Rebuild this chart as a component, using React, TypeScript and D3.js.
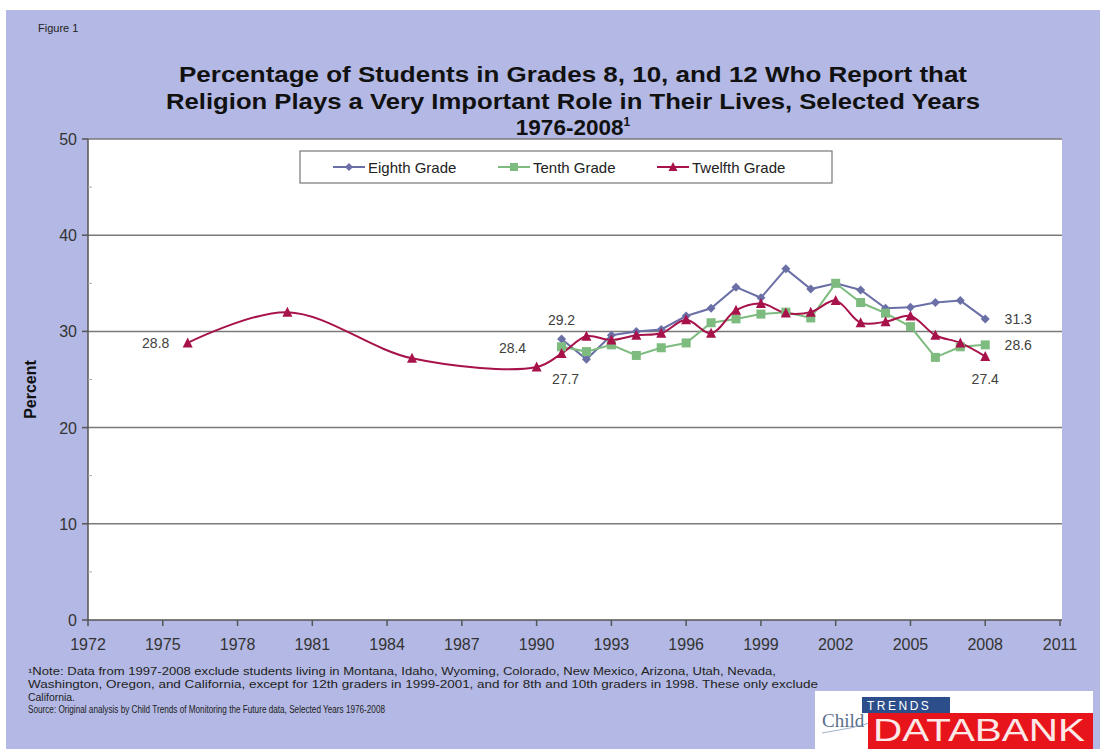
import React from "react";
import * as d3 from "d3";

const titleLines = [
  "Percentage of Students in Grades 8, 10, and 12 Who Report that",
  "Religion Plays a Very Important Role in Their Lives, Selected Years",
];
const yearsLower = [1991, 1992, 1993, 1994, 1995, 1996, 1997, 1998, 1999, 2000, 2001, 2002, 2003, 2004, 2005, 2006, 2007, 2008];
const eighth = [29.2, 27.1, 29.6, 30.0, 30.2, 31.6, 32.4, 34.6, 33.5, 36.5, 34.4, 35.0, 34.3, 32.4, 32.5, 33.0, 33.2, 31.3];
const tenth = [28.4, 27.9, 28.6, 27.5, 28.3, 28.8, 30.9, 31.3, 31.8, 32.0, 31.4, 35.0, 33.0, 31.9, 30.5, 27.3, 28.4, 28.6];
const yearsTwelfth = [1976, 1980, 1985, 1990, 1991, 1992, 1993, 1994, 1995, 1996, 1997, 1998, 1999, 2000, 2001, 2002, 2003, 2004, 2005, 2006, 2007, 2008];
const twelfth = [28.8, 32.0, 27.2, 26.3, 27.7, 29.5, 29.1, 29.6, 29.8, 31.2, 29.8, 32.2, 32.9, 31.9, 32.0, 33.2, 30.9, 31.0, 31.6, 29.6, 28.8, 27.4];
const xTicks = [1972, 1975, 1978, 1981, 1984, 1987, 1990, 1993, 1996, 1999, 2002, 2005, 2008, 2011];
const yTicks = [0, 10, 20, 30, 40, 50];
const yMinor = [5, 15, 25, 35, 45];
const seriesNames = ["Eighth Grade", "Tenth Grade", "Twelfth Grade"];
const footLines = [
  "\u00B9Note: Data from 1997-2008 exclude students living in Montana, Idaho, Wyoming, Colorado, New Mexico, Arizona, Utah, Nevada,",
  "Washington, Oregon, and California, except for 12th graders in 1999-2001, and for 8th and 10th graders in 1998. These only exclude",
  "California.",
  "Source: Original analysis by Child Trends of Monitoring the Future data, Selected Years 1976-2008",
];

const C8 = "#6a6fa6";
const C10 = "#7dbb7f";
const C12 = "#a8124a";
const BG = "#b3b9e4";
const FONT = "'Liberation Sans', Arial, sans-serif";

const x = d3.scaleLinear().domain([1972, 2011]).range([88, 1060]);
const y = d3.scaleLinear().domain([0, 50]).range([620, 139]);

function Diamond({ cx, cy, r = 4.5 }: any) {
  return <path d={`M${cx},${cy - r}L${cx + r},${cy}L${cx},${cy + r}L${cx - r},${cy}Z`} fill={C8} />;
}
function Square({ cx, cy, s = 9 }: any) {
  return <rect x={cx - s / 2} y={cy - s / 2} width={s} height={s} fill={C10} />;
}
function Tri({ cx, cy, s = 10 }: any) {
  const h = s * 0.9;
  return <path d={`M${cx},${cy - h / 2 - 1}L${cx + s / 2},${cy + h / 2}L${cx - s / 2},${cy + h / 2}Z`} fill={C12} />;
}

export default function App() {
  const straight = (yrs: number[], vals: number[]) =>
    d3.line<number>().x((_, i) => x(yrs[i])).y((v) => y(v))(vals) || "";
  const smooth = (yrs: number[], vals: number[]) =>
    d3.line<number>().x((_, i) => x(yrs[i])).y((v) => y(v)).curve(d3.curveCatmullRom.alpha(0.5))(vals) || "";

  const plotL = x(1972), plotR = x(2011) + 2, plotT = y(50), plotB = y(0);

  const labels = [
    { t: "28.8", xv: 1976, yv: 28.8, dx: -32, dy: 0 },
    { t: "29.2", xv: 1991, yv: 29.2, dx: 0, dy: -19 },
    { t: "28.4", xv: 1991, yv: 28.4, dx: -49, dy: 1 },
    { t: "27.7", xv: 1991, yv: 27.7, dx: 4, dy: 25 },
    { t: "31.3", xv: 2008, yv: 31.3, dx: 33, dy: 0 },
    { t: "28.6", xv: 2008, yv: 28.6, dx: 33, dy: 0 },
    { t: "27.4", xv: 2008, yv: 27.4, dx: 0, dy: 23 },
  ];

  return (
    <svg width={1100} height={749} style={{ position: "absolute", left: 0, top: 0 }} fontFamily={FONT}>
      <rect x={0} y={0} width={1100} height={749} fill="#ffffff" />
      <rect x={6} y={10} width={1094} height={739} fill={BG} />
      <text x={38} y={32} fontSize={11} fill="#222">Figure 1</text>
      {titleLines.map((t, i) => (
        <text key={i} x={573} y={82 + i * 27} fontSize={22.5} fontWeight="bold" textAnchor="middle" fill="#111"
          textLength={[788, 814][i]} lengthAdjust="spacingAndGlyphs">{t}</text>
      ))}
      <text x={573} y={135} fontSize={22.5} fontWeight="bold" textAnchor="middle" fill="#111">
        1976-2008<tspan fontSize={12} dy={-9}>1</tspan>
      </text>

      <rect x={plotL} y={plotT} width={plotR - plotL} height={plotB - plotT} fill="#fff" />
      {yTicks.filter((v) => v > 0).map((v) => (
        <line key={v} x1={plotL} x2={plotR} y1={y(v)} y2={y(v)} stroke="#7a7a7a" strokeWidth={1.5} />
      ))}
      <line x1={plotL} x2={plotL} y1={plotT} y2={plotB} stroke="#555" strokeWidth={1.5} />
      <line x1={plotL} x2={plotR} y1={plotB} y2={plotB} stroke="#555" strokeWidth={1.5} />
      {yTicks.map((v) => (
        <g key={v}>
          <line x1={plotL - 6} x2={plotL} y1={y(v)} y2={y(v)} stroke="#555" strokeWidth={1.5} />
          <text x={plotL - 11} y={y(v) + 6} fontSize={16} textAnchor="end" fill="#333">{v}</text>
        </g>
      ))}
      {yMinor.map((v) => (
        <line key={v} x1={plotL} x2={plotL + 4} y1={y(v)} y2={y(v)} stroke="#aaa" strokeWidth={1} />
      ))}
      {xTicks.map((v) => (
        <g key={v}>
          <line x1={x(v)} x2={x(v)} y1={plotB} y2={plotB + 6} stroke="#555" strokeWidth={1.5} />
          <text x={x(v)} y={plotB + 30} fontSize={16} textAnchor="middle" fill="#333">{v}</text>
        </g>
      ))}
      <text transform={`translate(36,${(plotT + plotB) / 2 + 10}) rotate(-90)`} fontSize={16} fontWeight="bold" textAnchor="middle" fill="#111">Percent</text>

      <path d={straight(yearsLower, eighth)} fill="none" stroke={C8} strokeWidth={2} />
      <path d={straight(yearsLower, tenth)} fill="none" stroke={C10} strokeWidth={2} />
      <path d={smooth(yearsTwelfth, twelfth)} fill="none" stroke={C12} strokeWidth={2} />
      {eighth.map((v, i) => <Diamond key={"e" + i} cx={x(yearsLower[i])} cy={y(v)} />)}
      {tenth.map((v, i) => <Square key={"t" + i} cx={x(yearsLower[i])} cy={y(v)} />)}
      {twelfth.map((v, i) => <Tri key={"w" + i} cx={x(yearsTwelfth[i])} cy={y(v)} />)}

      {labels.map((l, i) => (
        <text key={i} x={x(l.xv) + l.dx} y={y(l.yv) + l.dy + 5} fontSize={14} textAnchor="middle" fill="#404040">{l.t}</text>
      ))}

      <rect x={300} y={151} width={532} height={32} fill="#fff" stroke="#777" strokeWidth={1.2} />
      {seriesNames.map((n, i) => {
        const lx = [333, 498, 657][i];
        const cy = 167;
        return (
          <g key={n}>
            <line x1={lx} x2={lx + 32} y1={cy} y2={cy} stroke={[C8, C10, C12][i]} strokeWidth={2} />
            {i === 0 && <Diamond cx={lx + 16} cy={cy} r={4} />}
            {i === 1 && <Square cx={lx + 16} cy={cy} s={8} />}
            {i === 2 && <Tri cx={lx + 16} cy={cy} s={9} />}
            <text x={lx + 35} y={cy + 5.5} fontSize={15} fill="#222">{n}</text>
          </g>
        );
      })}

      {footLines.map((t, i) => {
        const widths = [748, 790, 47, 357];
        return (
          <text key={i} x={28} y={675 + i * 12.8} fontSize={10} fill="#222" textLength={widths[i]} lengthAdjust="spacingAndGlyphs">{t}</text>
        );
      })}

      <rect x={815} y={691} width={278} height={58} fill="#fff" />
      <path d="M822,733 Q880,725 945,697" fill="none" stroke="#9fb3c8" strokeWidth={1} />
      <text x={822} y={727} fontSize={19} fill="#5a6f8c" fontFamily="'Liberation Serif', serif">Child</text>
      <rect x={862} y={697} width={88} height={16} fill="#2c4f8c" />
      <text x={867} y={710} fontSize={12} fill="#fff" letterSpacing={2.5}>TRENDS</text>
      <rect x={868} y={713} width={225} height={36} fill="#e8141c" />
      <text x={873} y={741} fontSize={31} fill="#fde8e8" textLength={212} lengthAdjust="spacingAndGlyphs">DATABANK</text>
    </svg>
  );
}
